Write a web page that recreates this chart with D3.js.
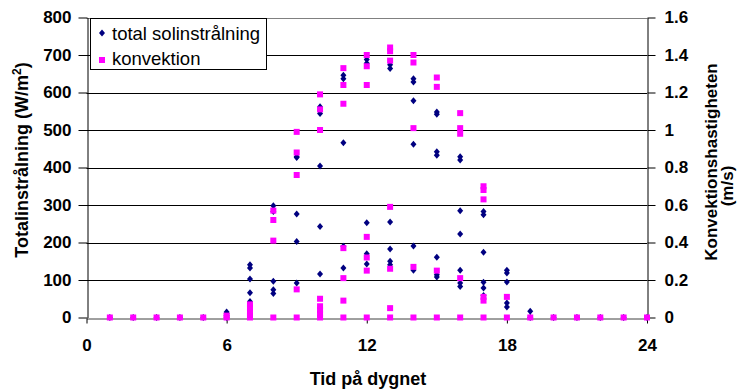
<!DOCTYPE html>
<html>
<head>
<meta charset="utf-8">
<script src="https://cdn.jsdelivr.net/npm/d3@7"></script>
<style>
  body { margin: 0; background: #fff; }
  svg { display: block; font-family: "Liberation Sans", Arial, sans-serif; }
</style>
</head>
<body>
<div id="chart"></div>
<script>
"use strict";

// Hours of the day that carry measurements
const hours = [1, 2, 3, 4, 5, 6, 7, 8, 9, 10, 11, 12, 13, 14, 15, 16, 17, 18, 19, 20, 21, 22, 23, 24];

// Total solar radiation (W/m2), one list per hour (several days overlaid)
const solarByHour = [
  [0], [0], [0], [0], [0],
  [15, 10, 5, 0],
  [141, 132, 103, 66, 43],
  [298, 283, 97, 74, 64],
  [429, 427, 276, 203, 92],
  [562, 553, 544, 404, 243, 116],
  [646, 637, 466, 190, 132],
  [688, 678, 253, 170, 143],
  [674, 664, 255, 183, 150, 141],
  [637, 628, 578, 462, 191, 126],
  [548, 542, 442, 433, 161, 114, 108],
  [429, 420, 285, 223, 126, 92, 83],
  [283, 274, 174, 94, 79, 59],
  [126, 119, 95, 39, 28],
  [17, 0],
  [0], [0], [0], [0], [0]
];

// Convection speed (m/s), one list per hour
const convByHour = [
  [0], [0], [0], [0], [0],
  [0.01, 0],
  [0.07, 0.05, 0.03, 0.01, 0],
  [0.57, 0.52, 0.41, 0],
  [0.99, 0.88, 0.76, 0.15, 0],
  [1.19, 1.11, 1.0, 0.1, 0.06, 0.04, 0.02, 0],
  [1.33, 1.24, 1.14, 0.37, 0.21, 0.09, 0],
  [1.40, 1.34, 1.24, 0.43, 0.32, 0.25, 0],
  [1.44, 1.42, 1.37, 0.59, 0.26, 0.05, 0],
  [1.40, 1.36, 1.01, 0.27, 0],
  [1.28, 1.23, 0.25, 0],
  [1.09, 1.01, 0.98, 0.21, 0],
  [0.70, 0.68, 0.63, 0.11, 0.09, 0],
  [0.11, 0],
  [0], [0], [0], [0], [0], [0]
];

const xTicks = [0, 6, 12, 18, 24];
const leftTicks = [0, 100, 200, 300, 400, 500, 600, 700, 800];
const rightTicks = [0, 0.2, 0.4, 0.6, 0.8, 1, 1.2, 1.4, 1.6];
const seriesNames = ["total solinstrålning", "konvektion"];

const width = 739, height = 392;
const plot = { left: 86.5, right: 647, top: 17.5, bottom: 317.5 };
const solarColor = "#000080", convColor = "#FF00FF";

const svg = d3.select("#chart").append("svg")
  .attr("width", width)
  .attr("height", height);

const x = d3.scaleLinear().domain([0, 24]).range([plot.left, plot.right]);
const yL = d3.scaleLinear().domain([0, 800]).range([plot.bottom, plot.top]);
const yR = d3.scaleLinear().domain([0, 1.6]).range([plot.bottom, plot.top]);

// flatten the per-hour lists into points
const solarPts = hours.flatMap((h, i) => solarByHour[i].map(v => ({ h, v })));
const convPts = hours.flatMap((h, i) => convByHour[i].map(v => ({ h, v })));

// horizontal gridlines
svg.append("g")
  .selectAll("line")
  .data(leftTicks.filter(d => d > 0))
  .join("line")
  .attr("x1", plot.left).attr("x2", plot.right)
  .attr("y1", d => Math.round(yL(d)) + 0.5).attr("y2", d => Math.round(yL(d)) + 0.5)
  .attr("stroke", d => d === 800 ? "#808080" : "#000")
  .attr("stroke-width", 1);

// axes
const tickFont = g => g.selectAll("text")
  .style("font-size", "17px").style("font-weight", "bold").attr("fill", "#000");

const xAxis = svg.append("g")
  .attr("transform", `translate(0,${Math.round(plot.bottom) + 0.5})`)
  .call(d3.axisBottom(x).tickValues(xTicks).tickSize(5).tickPadding(15).tickSizeOuter(0))
  .call(tickFont);
xAxis.select(".domain").attr("stroke", "#404040");

const leftAxis = svg.append("g")
  .attr("transform", `translate(${Math.round(plot.left) + 0.5},0)`)
  .call(d3.axisLeft(yL).tickValues(leftTicks).tickSize(9).tickPadding(7).tickSizeOuter(0))
  .call(tickFont);

const rightAxis = svg.append("g")
  .attr("transform", `translate(${Math.round(plot.right) + 0.5},0)`)
  .call(d3.axisRight(yR).tickValues(rightTicks).tickFormat(d3.format("~g")).tickSize(8).tickPadding(9).tickSizeOuter(0))
  .call(tickFont);

// solar radiation: navy diamonds
const diamond = "M0,-3.5L3,0L0,3.5L-3,0Z";
svg.append("g")
  .selectAll("path")
  .data(solarPts)
  .join("path")
  .attr("d", diamond)
  .attr("transform", d => `translate(${x(d.h)},${yL(d.v)})`)
  .attr("fill", solarColor);

// convection: magenta squares
svg.append("g")
  .selectAll("rect")
  .data(convPts)
  .join("rect")
  .attr("x", d => x(d.h) - 3)
  .attr("y", d => yR(d.v) - 3)
  .attr("width", 6)
  .attr("height", 6)
  .attr("fill", convColor);

// axis titles
svg.append("text")
  .attr("x", 368).attr("y", 385)
  .attr("text-anchor", "middle")
  .style("font-size", "18px").style("font-weight", "bold")
  .text("Tid på dygnet");

const leftTitle = svg.append("text")
  .attr("transform", "translate(28,160) rotate(-90)")
  .attr("text-anchor", "middle")
  .style("font-size", "18px").style("font-weight", "bold");
leftTitle.append("tspan").text("Totalinstrålning (W/m");
leftTitle.append("tspan").attr("dy", -7).style("font-size", "12px").text("2");
leftTitle.append("tspan").attr("dy", 7).text(")");

svg.append("text")
  .attr("transform", "translate(717,162) rotate(-90)")
  .attr("text-anchor", "middle")
  .style("font-size", "17px").style("font-weight", "bold")
  .text("Konvektionshastigheten");
svg.append("text")
  .attr("transform", "translate(733,186) rotate(-90)")
  .attr("text-anchor", "middle")
  .style("font-size", "17px").style("font-weight", "bold")
  .text("(m/s)");

// legend
const legend = svg.append("g");
legend.append("rect")
  .attr("x", 90.5).attr("y", 18.5)
  .attr("width", 176).attr("height", 51)
  .attr("fill", "#fff").attr("stroke", "#000");
legend.append("path")
  .attr("d", diamond)
  .attr("transform", "translate(102,33)")
  .attr("fill", solarColor);
legend.append("rect")
  .attr("x", 99).attr("y", 57).attr("width", 6).attr("height", 6)
  .attr("fill", convColor);
legend.selectAll("text.lbl")
  .data(seriesNames)
  .join("text")
  .attr("class", "lbl")
  .attr("x", 112)
  .attr("y", (d, i) => 40 + i * 25)
  .style("font-size", "18.5px")
  .text(d => d);
</script>
</body>
</html>
